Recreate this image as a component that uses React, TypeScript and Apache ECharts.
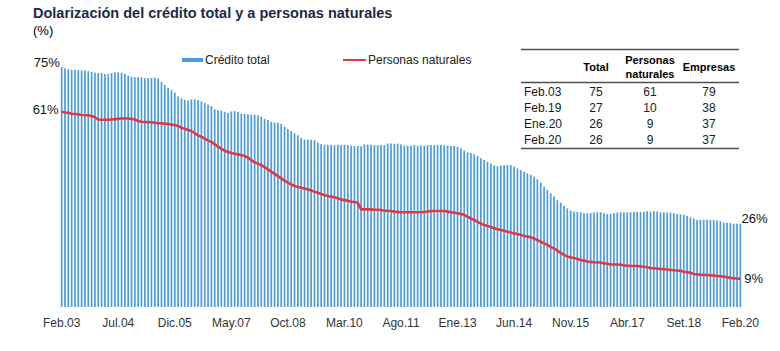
import React, { useEffect, useRef } from "react";
import * as echarts from "echarts";

const monthNames = ["Ene", "Feb", "Mar", "Abr", "May", "Jun", "Jul", "Ago", "Set", "Oct", "Nov", "Dic"];

// Feb.03 .. Feb.20 monthly
const categories: string[] = [];
for (let y = 2003; y <= 2020; y++) {
  for (let m = 0; m < 12; m++) {
    if (y === 2003 && m < 1) continue;
    if (y === 2020 && m > 1) continue;
    categories.push(`${monthNames[m]}.${String(y).slice(2)}`);
  }
}

const creditoTotal = [
  75.0, 74.6, 74.3, 74.1, 74.1, 74.0, 73.9, 73.9, 73.7, 73.5,
  73.2, 73.1, 73.0, 72.8, 72.8, 73.1, 73.3, 73.3, 73.2, 72.8,
  72.3, 71.9, 71.8, 71.8, 71.8, 71.5, 71.5, 71.6, 71.7, 71.4,
  70.3, 69.4, 68.5, 67.8, 67.0, 65.8, 65.2, 64.7, 64.5, 64.9,
  64.9, 64.7, 64.2, 63.7, 63.2, 62.8, 61.8, 61.6, 61.4, 61.0,
  60.6, 61.1, 61.2, 61.0, 60.4, 60.3, 60.2, 60.1, 60.1, 59.9,
  59.5, 58.8, 58.4, 57.9, 57.6, 57.6, 57.2, 56.4, 55.6, 55.0,
  54.3, 53.7, 52.8, 52.3, 52.3, 52.3, 52.1, 51.4, 50.9, 50.7,
  50.7, 50.7, 50.6, 50.7, 50.6, 50.7, 50.6, 50.4, 50.3, 50.3,
  50.2, 50.8, 50.8, 50.7, 50.6, 50.6, 50.6, 50.6, 51.1, 51.1,
  51.0, 51.1, 50.8, 50.4, 50.4, 50.4, 50.6, 50.4, 50.5, 50.4,
  50.6, 50.6, 50.6, 50.6, 50.6, 50.5, 50.4, 50.3, 50.3, 50.1,
  49.6, 48.9, 48.3, 48.1, 47.7, 47.2, 46.5, 46.0, 45.4, 44.9,
  44.2, 44.0, 44.2, 44.3, 44.4, 44.4, 43.9, 43.3, 42.8, 42.3,
  41.8, 41.3, 40.7, 39.9, 38.9, 37.6, 36.6, 35.5, 34.5, 33.4,
  32.6, 31.6, 30.8, 30.1, 29.8, 29.7, 29.6, 29.3, 29.3, 29.3,
  29.5, 29.6, 29.6, 29.3, 29.0, 29.1, 29.3, 29.5, 29.6, 29.6,
  29.6, 29.6, 29.8, 29.7, 29.7, 29.8, 29.9, 29.8, 30.0, 29.9,
  29.6, 29.6, 29.5, 29.5, 29.3, 29.1, 29.0, 28.8, 28.4, 28.0,
  27.7, 27.2, 27.2, 27.3, 27.3, 27.2, 27.2, 27.0, 26.8, 26.4,
  26.3, 26.2, 26.0, 26.0, 26.0,
];

const personasNaturales = [
  61.0, 60.8, 60.7, 60.4, 60.3, 60.2, 60.0, 59.9, 59.9, 59.7,
  59.3, 58.6, 58.5, 58.5, 58.5, 58.6, 58.7, 58.8, 58.9, 59.0,
  58.9, 58.8, 58.6, 58.1, 57.9, 57.8, 57.8, 57.7, 57.6, 57.4,
  57.4, 57.3, 57.2, 57.0, 56.9, 56.6, 56.0, 55.7, 55.3, 55.0,
  54.3, 53.6, 53.2, 52.6, 52.0, 51.6, 50.9, 50.1, 49.4, 48.9,
  48.4, 48.1, 47.9, 47.7, 47.4, 47.2, 46.7, 45.9, 45.2, 44.8,
  44.3, 43.7, 43.0, 42.3, 41.6, 40.9, 40.2, 39.5, 38.9, 38.3,
  37.8, 37.5, 37.3, 37.0, 36.8, 36.4, 36.0, 35.7, 35.3, 35.0,
  34.7, 34.5, 34.3, 34.0, 33.6, 33.4, 33.2, 32.9, 32.8, 32.6,
  30.5, 30.5, 30.5, 30.5, 30.4, 30.4, 30.3, 30.1, 30.1, 30.0,
  29.8, 29.7, 29.6, 29.6, 29.6, 29.6, 29.6, 29.6, 29.6, 29.7,
  29.8, 30.0, 30.0, 30.0, 30.0, 30.0, 29.8, 29.6, 29.5, 29.3,
  29.1, 28.8, 28.2, 27.7, 27.2, 26.6, 26.1, 25.6, 25.3, 25.0,
  24.6, 24.3, 24.1, 23.8, 23.5, 23.3, 23.0, 22.8, 22.5, 22.2,
  22.0, 21.8, 21.4, 20.9, 20.4, 19.9, 19.4, 18.8, 18.3, 17.6,
  16.9, 16.3, 15.8, 15.5, 15.3, 15.0, 14.7, 14.5, 14.2, 14.1,
  14.0, 13.9, 13.9, 13.7, 13.5, 13.3, 13.3, 13.3, 13.2, 13.0,
  12.9, 12.8, 12.8, 12.8, 12.7, 12.6, 12.4, 12.2, 12.1, 12.0,
  11.9, 11.8, 11.7, 11.6, 11.5, 11.4, 11.3, 11.0, 10.9, 10.7,
  10.3, 10.2, 10.1, 10.0, 10.0, 9.9, 9.8, 9.7, 9.6, 9.5,
  9.3, 9.1, 9.0, 8.9, 8.8,
];

const endLabelsTotal = [75, 26];
const endLabelsPersonas = [61, 9];

const tableHeaders = ["Total", "Personas\nnaturales", "Empresas"];
const tableRowLabels = ["Feb.03", "Feb.19", "Ene.20", "Feb.20"];
const tableTotal = [75, 27, 26, 26];
const tablePersonas = [61, 10, 9, 9];
const tableEmpresas = [79, 38, 37, 37];

const FONT = "'Liberation Sans', Arial, sans-serif";

export default function App() {
  const ref = useRef<HTMLDivElement>(null);

  useEffect(() => {
    if (!ref.current) return;
    const chart = echarts.init(ref.current, undefined, { renderer: "svg" });
    const last = creditoTotal.length - 1;

    const barData = creditoTotal.map((v, i) => {
      if (i === 0) {
        return {
          value: v,
          label: { show: true, position: [-27, -11], formatter: `${endLabelsTotal[0]}%` },
        };
      }
      if (i === last) {
        return {
          value: v,
          label: { show: true, position: [2, -12], formatter: `${endLabelsTotal[1]}%` },
        };
      }
      return v;
    });

    const lineData = personasNaturales.map((v, i) => {
      if (i === 0) {
        return {
          value: v,
          label: { show: true, position: "left", distance: 3, offset: [0, -2], formatter: `${endLabelsPersonas[0]}%` },
        };
      }
      if (i === last) {
        return {
          value: v,
          label: { show: true, position: "right", distance: 4, formatter: `${endLabelsPersonas[1]}%` },
        };
      }
      return v;
    });

    const colX = [596, 650, 709];
    const rowY = [92, 108, 124, 140];
    const graphics: any[] = [];
    const rule = (y: number) => ({
      type: "line",
      shape: { x1: 521, y1: y, x2: 739, y2: y },
      style: { stroke: "#505050", lineWidth: 1.3 },
    });
    graphics.push(rule(49.5), rule(82.5), rule(148.5));
    tableHeaders.forEach((h, j) => {
      graphics.push({
        type: "text",
        x: colX[j],
        y: 67,
        style: {
          text: h,
          fill: "#000",
          font: `bold 11px ${FONT}`,
          align: "center",
          verticalAlign: "middle",
          lineHeight: 14,
        },
      });
    });
    tableRowLabels.forEach((r, i) => {
      const vals = [tableTotal[i], tablePersonas[i], tableEmpresas[i]];
      graphics.push({
        type: "text",
        x: 524,
        y: rowY[i],
        style: { text: r, fill: "#1a1a1a", font: `12px ${FONT}`, align: "left", verticalAlign: "middle" },
      });
      vals.forEach((v, j) => {
        graphics.push({
          type: "text",
          x: colX[j],
          y: rowY[i],
          style: { text: String(v), fill: "#1a1a1a", font: `12px ${FONT}`, align: "center", verticalAlign: "middle" },
        });
      });
    });

    chart.setOption({
      animation: false,
      title: [
        {
          text: "Dolarización del crédito total y a personas naturales",
          left: 33,
          top: 5,
          padding: 0,
          textStyle: { fontFamily: FONT, fontSize: 14.5, fontWeight: "bold", color: "#1c2a48" },
        },
        {
          text: "(%)",
          left: 33,
          top: 24,
          padding: 0,
          textStyle: { fontFamily: FONT, fontSize: 13, fontWeight: "normal", color: "#000" },
        },
      ],
      legend: [
        {
          data: ["Crédito total"],
          left: 182,
          top: 54,
          padding: 0,
          icon: "rect",
          itemWidth: 21,
          itemHeight: 4,
          textStyle: { fontFamily: FONT, fontSize: 12, color: "#222", padding: [0, 0, 0, -3] },
        },
        {
          data: ["Personas naturales"],
          left: 343,
          top: 54,
          padding: 0,
          icon: "rect",
          itemWidth: 23,
          itemHeight: 2,
          textStyle: { fontFamily: FONT, fontSize: 12, color: "#222", padding: [0, 0, 0, -3] },
        },
      ],
      grid: { left: 60, right: 38, top: 51, bottom: 44 },
      xAxis: {
        type: "category",
        data: categories,
        axisLine: { show: false },
        axisTick: { show: false },
        axisLabel: { interval: 16, fontFamily: FONT, fontSize: 12, color: "#333", margin: 10 },
      },
      yAxis: {
        type: "value",
        min: 0,
        max: 80,
        show: false,
        splitLine: { show: false },
      },
      series: [
        {
          name: "Crédito total",
          type: "bar",
          data: barData,
          barWidth: 1.7,
          itemStyle: { color: "#4b9be2" },
          label: { fontFamily: FONT, fontSize: 13, color: "#111" },
        },
        {
          name: "Personas naturales",
          type: "line",
          data: lineData,
          symbol: "circle",
          symbolSize: 0.01,
          showSymbol: true,
          z: 5,
          lineStyle: { color: "#e03a3e", width: 2.6 },
          itemStyle: { color: "#e03a3e" },
          label: { fontFamily: FONT, fontSize: 13, color: "#111" },
        },
      ],
      graphic: graphics,
    });

    return () => chart.dispose();
  }, []);

  return (
    <div
      ref={ref}
      style={{ position: "fixed", left: 0, top: 0, width: 780, height: 351, background: "#fff" }}
    />
  );
}
